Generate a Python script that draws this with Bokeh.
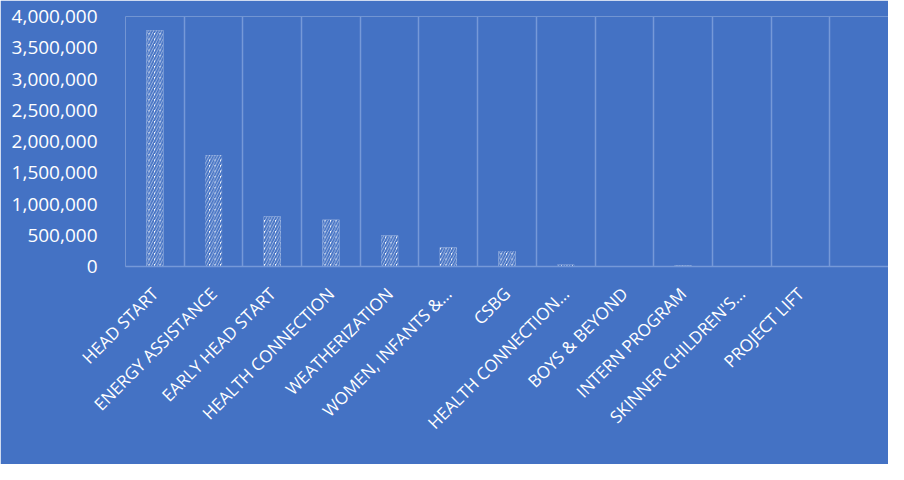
from math import pi
from bokeh.plotting import figure
from bokeh.models import FixedTicker, NumeralTickFormatter, ColumnDataSource, Range1d
from bokeh.embed import file_html
from bokeh.resources import INLINE

categories = ["HEAD START", "ENERGY ASSISTANCE", "EARLY HEAD START", "HEALTH CONNECTION",
              "WEATHERIZATION", "WOMEN, INFANTS &\u2026", "CSBG", "HEALTH CONNECTION\u2026",
              "BOYS & BEYOND", "INTERN PROGRAM", "SKINNER CHILDREN'S\u2026", "PROJECT LIFT", ""]
values = [3780000, 1780000, 800000, 750000, 496000, 304000, 248000, 30000,
          8000, 16000, 5000, 4000, 0]
y_ticks = [0, 500000, 1000000, 1500000, 2000000, 2500000, 3000000, 3500000, 4000000]

BG = "#4472C4"
GRID = "#7699D8"

n = len(categories)
xs = [i + 0.5 for i in range(n)]
src = ColumnDataSource(dict(x=xs, top=values))

p = figure(width=888, height=464, output_backend="svg", toolbar_location=None,
           x_range=Range1d(0, n), y_range=Range1d(0, 4000000),
           background_fill_color=BG, border_fill_color=BG,
           min_border_left=125, min_border_right=0, min_border_top=16, min_border_bottom=198)
p.outline_line_color = None

p.vbar(x="x", top="top", width=0.29, source=src, fill_color="white", line_color=None,
       hatch_pattern="/", hatch_color=BG, hatch_scale=5.5, hatch_weight=2)

# x axis
p.xaxis.ticker = FixedTicker(ticks=xs)
p.xaxis.major_label_overrides = {x: c for x, c in zip(xs, categories)}
p.xaxis.major_label_orientation = pi / 4
p.xaxis.major_label_text_color = "white"
p.xaxis.major_label_text_font = "Open Sans"
p.xaxis.major_label_text_font_size = "17px"
p.xaxis.major_label_standoff = 18
p.xaxis.axis_line_color = GRID
p.xaxis.axis_line_width = 1.5
p.xaxis.major_tick_line_color = None
p.xaxis.minor_tick_line_color = None

# y axis
p.yaxis.ticker = FixedTicker(ticks=y_ticks)
p.yaxis.formatter = NumeralTickFormatter(format="0,0")
p.yaxis.major_label_text_color = "white"
p.yaxis.major_label_text_font = "Open Sans"
p.yaxis.major_label_text_font_size = "19px"
p.yaxis.major_label_standoff = 22
p.yaxis.axis_line_color = None
p.yaxis.major_tick_line_color = None
p.yaxis.minor_tick_line_color = None

# grid
p.ygrid.grid_line_color = None
p.xgrid.ticker = FixedTicker(ticks=list(range(n + 1)))
p.xgrid.grid_line_color = GRID
p.xgrid.grid_line_width = 1.5

open("out.html", "w").write(file_html(p, INLINE))
